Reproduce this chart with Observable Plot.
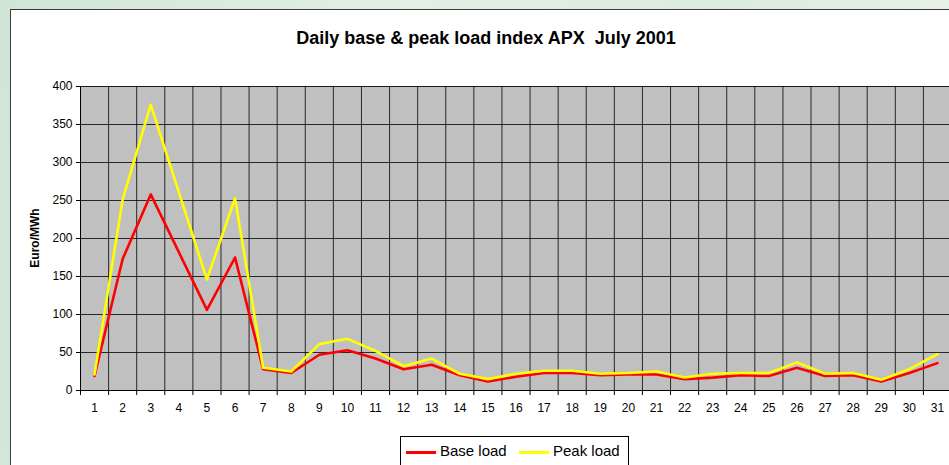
<!DOCTYPE html>
<html><head><meta charset="utf-8">
<script src="https://cdn.jsdelivr.net/npm/d3@7"></script>
<script src="https://cdn.jsdelivr.net/npm/@observablehq/plot@0.6"></script>
<style>
html,body{margin:0;padding:0;}
body{width:949px;height:465px;overflow:hidden;position:relative;
 background:linear-gradient(100deg,#cfe5d6 0%,#e3efe6 40%,#dcebe0 70%,#e9f2ea 100%);
 font-family:"Liberation Sans",Arial,sans-serif;}
#box{position:absolute;left:10px;top:9px;width:945px;height:460px;background:#fff;border:1px solid #3c3c3c;box-sizing:border-box;}
#chart{position:absolute;left:0;top:0;}
#title{position:absolute;left:0;width:972px;top:28px;text-align:center;font-weight:bold;font-size:18px;white-space:pre;color:#000;}
#ylab{position:absolute;left:35px;top:238px;transform:translate(-50%,-50%) rotate(-90deg);font-weight:bold;font-size:12px;white-space:nowrap;}
#legend{position:absolute;left:400px;top:436px;width:229px;height:40px;border:1px solid #000;box-sizing:border-box;background:#fff;font-size:15px;}
.sw{position:absolute;top:14px;height:3px;width:30px;}
.lt{position:absolute;top:5px;}
</style></head>
<body>
<div id="box"></div>
<div id="title">Daily base &amp; peak load index APX  July 2001</div>
<div id="chart"></div>
<div id="ylab">Euro/MWh</div>
<div id="legend">
 <div class="sw" style="left:5px;background:#ff0000"></div><div class="lt" style="left:39px">Base load</div>
 <div class="sw" style="left:118px;background:#ffff00"></div><div class="lt" style="left:152px">Peak load</div>
</div>
<script>
const days = d3.range(1, 32);
const baseLoad = [19,173,258,182,106,175,28,23,47,53,42,28,34,20,12,18,23,23,20,21,21,15,17,20,19,30,19,20,12,23,36];
const peakLoad = [21,251,376,261,146,253,30,25,61,68,52,32,42,22,15,22,26,26,22,23,25,17,22,23,23,37,22,23,14,28,48];
const yTicks = [0,50,100,150,200,250,300,350,400];

const rows = s => days.map((d,i)=>({day:d, v:s[i]}));
const bounds = d3.range(0.5, 31.6, 1);

const plot = Plot.plot({
  width: 949, height: 465,
  marginLeft: 80, marginRight: 0, marginTop: 86, marginBottom: 75,
  style:{background:"transparent", fontFamily:"'Liberation Sans', Arial, sans-serif", fontSize:"12px", color:"#000"},
  x:{type:"linear", domain:[0.5,31.5], range:[80,951]},
  y:{domain:[0,400], range:[390,86]},
  marks:[
    Plot.frame({fill:"#c0c0c0", stroke:"#808080"}),
    Plot.ruleY(yTicks, {y:d=>d, stroke:"#000", strokeWidth:1, strokeOpacity:0.8}),
    Plot.ruleX(bounds, {x:d=>d, stroke:"#000", strokeWidth:1, strokeOpacity:0.8}),
    Plot.axisY({ticks:yTicks, tickSize:4, tickPadding:4, label:null, fontSize:12}),
    Plot.axisX({ticks:days, tickSize:0, tickPadding:13, label:null, tickFormat:d=>String(d), fontSize:12}),
    Plot.axisX({ticks:bounds, tickSize:5, tickFormat:()=>"" , label:null}),
    Plot.ruleX([0.5], {stroke:"#000"}),
    Plot.ruleY([0], {stroke:"#000"}),
    Plot.line(rows(baseLoad), {x:"day", y:"v", stroke:"#ff0000", strokeWidth:2.6}),
    Plot.line(rows(peakLoad), {x:"day", y:"v", stroke:"#ffff00", strokeWidth:2.6})
  ]
});
document.getElementById("chart").appendChild(plot);
</script>
</body></html>
